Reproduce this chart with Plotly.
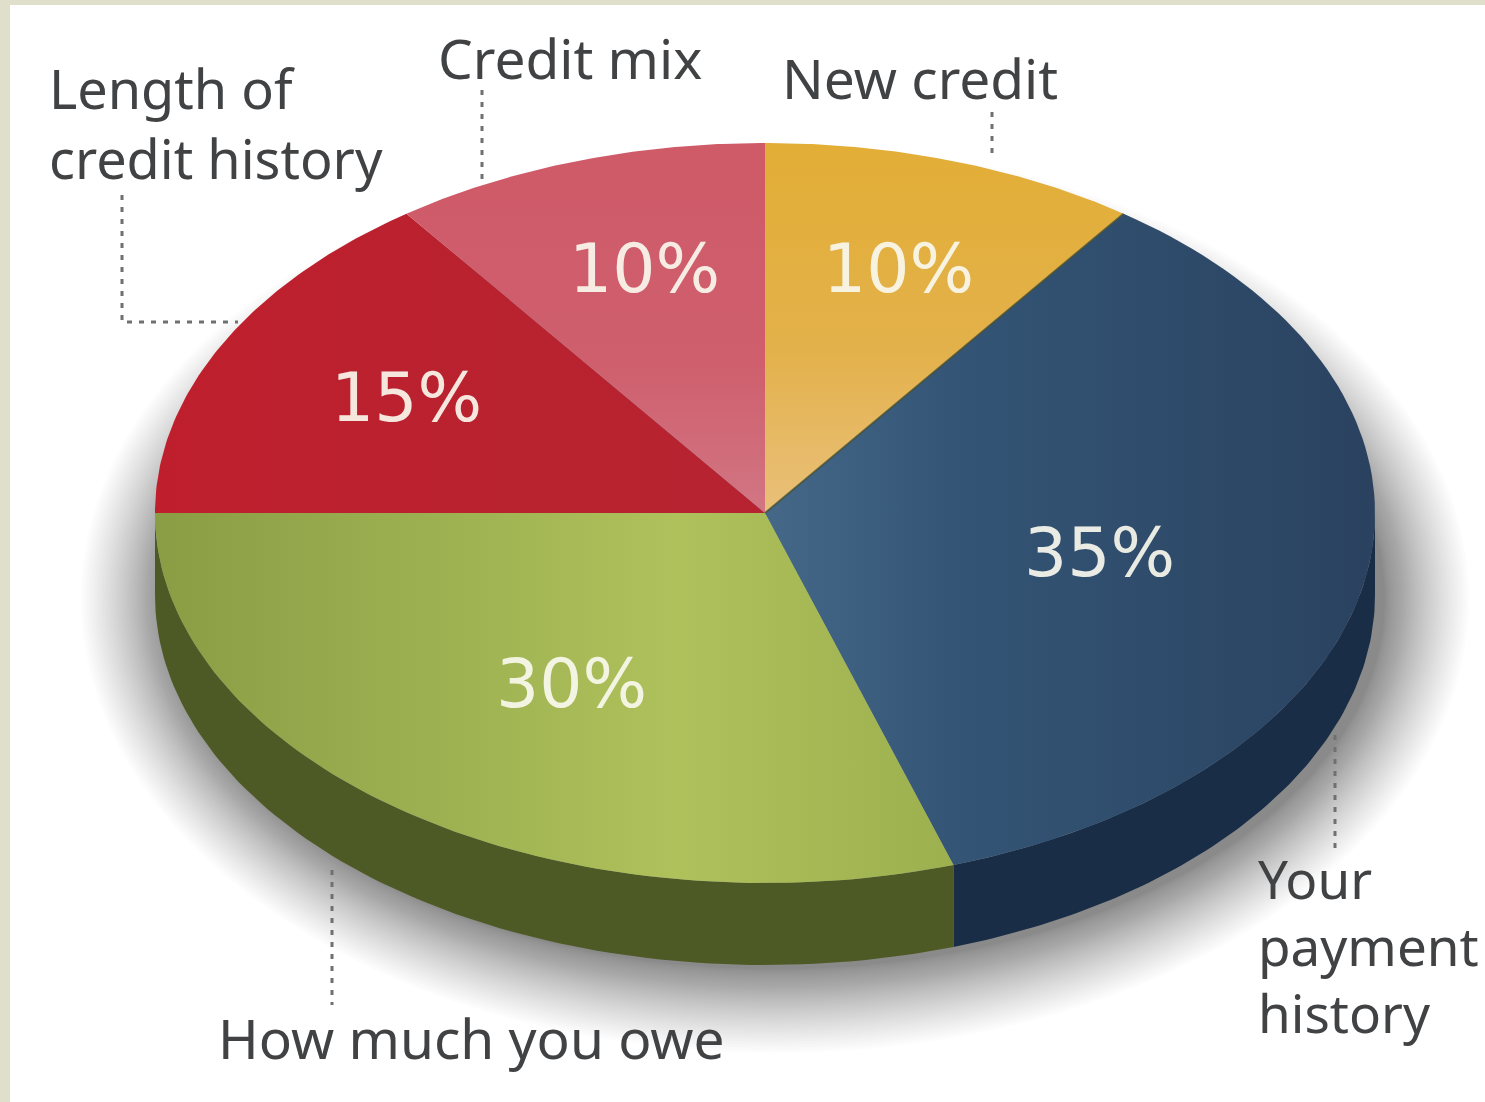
import numpy as np
import plotly.graph_objects as go

# Slice shares, clockwise from twelve o'clock
slice_names = ["New credit", "Your payment history", "How much you owe",
               "Length of credit history", "Credit mix"]
slice_shares = [10, 35, 30, 15, 10]

# Percent label placement as a fraction of the ellipse radii
label_fx = [0.706, 0.556, 0.54, 0.66, 0.64]
label_fy = [0.696, 0.69, 0.57, 0.69, 0.696]

# Callout captions, one entry per text line
caption_lines = ["Length of", "credit history", "Credit mix", "New credit",
                 "Your", "payment", "history", "How much you owe"]
caption_x = [47, 47, 436, 780, 1256, 1256, 1256, 216]
caption_y = [88, 158, 57, 77, 878, 945, 1012, 1037]
caption_size = [54, 54, 55, 55, 53, 53, 53, 55]

# Dotted leader lines
leader_x = [[122, 122, 238], [482, 482], [992, 992], [1335, 1335], [332, 332]]
leader_y = [[195, 322, 322], [90, 180], [112, 158], [735, 852], [870, 1005]]

# Disc geometry in page pixels
CX, CY, RX, RY, DEPTH = 765, 513, 610, 370, 82
CAPTION_FONT = "Noto Sans"
PERCENT_FONT = "DejaVu Sans"

# Fill gradients for each slice: (orientation, colour stops)
top_fills = [
    ("vertical", [[0, "#e9c07a"], [0.45, "#e3b14a"], [1, "#e2ae36"]]),
    ("horizontal", [[0, "#456889"], [0.3, "#345576"], [1, "#2a4260"]]),
    ("horizontal", [[0, "#8a9d44"], [0.2, "#95a84c"], [0.65, "#aec15b"], [1, "#9db04f"]]),
    ("horizontal", [[0, "#bf1f2d"], [0.6, "#b9222f"], [1, "#b72331"]]),
    ("vertical", [[0, "#d27684"], [0.4, "#cf5f6d"], [1, "#cf5a68"]]),
]
wall_fills = {1: "#1a2d47", 2: "#4e5a25"}

fig = go.Figure()


def rim(t):
    """Point on the disc edge for a clockwise angle from the top, in degrees."""
    r = np.radians(t)
    return CX + RX * np.sin(r), CY - RY * np.cos(r)


# Soft neutral drop shadow: stacked translucent ellipses, denser near the disc
ring = np.linspace(0, 360, 181)
for u in np.linspace(1, 0, 44):
    grow = 84 * u ** 1.4
    ex, ey = rim(ring)
    fig.add_trace(go.Scatter(
        x=(ex - CX) * (RX + grow) / RX + CX + 10,
        y=(ey - CY) * (RY + grow) / RY + CY + DEPTH + 4,
        mode="lines", line=dict(width=0), fill="toself",
        fillcolor="rgba(0,0,0,0.012)", hoverinfo="skip", showlegend=False))

edges = np.concatenate([[0], np.cumsum(slice_shares)]) * 3.6

# Side wall of the disc, visible only on the lower half of the rim
for i, colour in wall_fills.items():
    a0, a1 = max(edges[i], 90), min(edges[i + 1], 270)
    arc = np.linspace(a0, a1, 90)
    ax, ay = rim(arc)
    fig.add_trace(go.Scatter(
        x=np.concatenate([ax, ax[::-1]]),
        y=np.concatenate([ay, ay[::-1] + DEPTH]),
        mode="lines", line=dict(width=0, color=colour), fill="toself",
        fillcolor=colour, hoverinfo="skip", showlegend=False))

# Top face wedges
for i, name in enumerate(slice_names):
    arc = np.linspace(edges[i], edges[i + 1], 90)
    ax, ay = rim(arc)
    orient, stops = top_fills[i]
    fig.add_trace(go.Scatter(
        x=np.concatenate([[CX], ax, [CX]]),
        y=np.concatenate([[CY], ay, [CY]]),
        mode="lines", line=dict(width=0), fill="toself",
        fillgradient=dict(type=orient, colorscale=stops),
        name=name, hoverinfo="name", showlegend=False))

# Thin seam between the yellow and blue slices
sx, sy = rim(np.array([edges[1]]))
fig.add_trace(go.Scatter(
    x=[CX, sx[0]], y=[CY, sy[0]], mode="lines",
    line=dict(color="rgba(70,80,50,0.75)", width=2),
    hoverinfo="skip", showlegend=False))

# Dotted leaders
for lx, ly in zip(leader_x, leader_y):
    fig.add_trace(go.Scatter(
        x=lx, y=ly, mode="lines",
        line=dict(color="#6f7072", width=3, dash="5px,7px"),
        hoverinfo="skip", showlegend=False))

annotations = []

# Percent labels on the slices
mids = (edges[:-1] + edges[1:]) / 2
for v, m, fx, fy in zip(slice_shares, mids, label_fx, label_fy):
    r = np.radians(m)
    annotations.append(dict(
        x=CX + RX * fx * np.sin(r), y=CY - RY * fy * np.cos(r),
        text=f"{v}%", showarrow=False, xanchor="center", yanchor="middle",
        font=dict(family=PERCENT_FONT, size=68, color="rgba(250,248,238,0.92)")))

# Captions around the disc
for text, x, y, size in zip(caption_lines, caption_x, caption_y, caption_size):
    annotations.append(dict(
        x=x, y=y, text=text, showarrow=False, xanchor="left", yanchor="middle",
        font=dict(family=CAPTION_FONT, size=size, color="#414244")))

fig.update_layout(
    width=1485, height=1102,
    margin=dict(l=0, r=0, t=0, b=0),
    paper_bgcolor="white", plot_bgcolor="white",
    xaxis=dict(range=[0, 1485], visible=False, fixedrange=True),
    yaxis=dict(range=[1102, 0], visible=False, fixedrange=True),
    annotations=annotations,
    # Beige page frame along the top and left edges
    shapes=[
        dict(type="rect", xref="paper", yref="paper", x0=0, x1=1, y0=1, y1=1 - 5 / 1102,
             fillcolor="#e0dfcb", line_width=0, layer="below"),
        dict(type="rect", xref="paper", yref="paper", x0=0, x1=10 / 1485, y0=0, y1=1,
             fillcolor="#e0dfcb", line_width=0, layer="below"),
    ],
)

fig.write_html("out.html")
